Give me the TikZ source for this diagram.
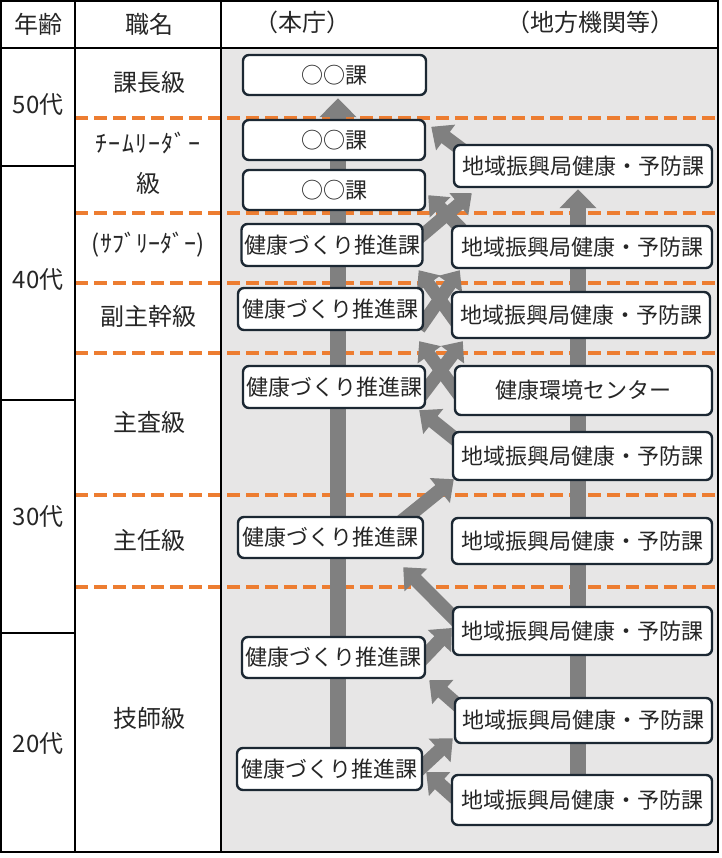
\documentclass[tikz,border=0pt]{standalone}
\usepackage{fontspec}
\setmainfont{Noto Sans CJK JP}
\usetikzlibrary{arrows.meta}
\definecolor{bgc}{RGB}{231,230,230}
\definecolor{orc}{RGB}{237,125,49}
\definecolor{arc}{RGB}{128,128,128}
\definecolor{bdc}{RGB}{28,40,51}
\definecolor{txc}{RGB}{38,38,38}
\pgfdeclarelayer{bg}
\pgfsetlayers{bg,main}
\begin{document}
\begin{tikzpicture}[x=1pt,y=-1pt,
  box/.style={draw=bdc, line width=2.4pt, rounded corners=6pt, fill=white, inner sep=0pt,
    font=\fontsize{22}{26}\selectfont, text=txc},
  lbox/.style={box, minimum width=183pt, minimum height=41pt},
  rbox/.style={box, minimum width=259pt, minimum height=46pt},
  lab/.style={font=\fontsize{24}{28}\selectfont, text=txc, inner sep=0pt},
  grid/.style={line width=2pt, black},
  lvl/.style={orc, line width=4pt, dash pattern=on 13pt off 6pt},
  trunk/.style={arc, line width=16pt, -{Triangle[length=19pt,width=36pt]}},
  arr/.style={arc, line width=14pt, -{Triangle[length=18pt,width=31pt]}},
  xarr/.style={arc, line width=13pt, -{Triangle[length=17pt,width=28pt]}},
]
\useasboundingbox (0,0) rectangle (721,858);

% ---- left boxes (本庁)
\node[lbox, minimum width=183pt, minimum height=40pt] (L1) at (334.5,75) {○○課};
\node[lbox, minimum width=182pt, minimum height=40pt] (L2) at (334,140) {○○課};
\node[lbox, minimum width=182pt, minimum height=40pt] (L3) at (334,190) {○○課};
\node[lbox, minimum width=181pt, minimum height=42pt] (L4) at (332,245) {健康づくり推進課};
\node[lbox, minimum width=185pt, minimum height=42pt] (L5) at (330.5,309) {健康づくり推進課};
\node[lbox, minimum width=182pt, minimum height=42pt] (L6) at (334,387) {健康づくり推進課};
\node[lbox, minimum width=185pt, minimum height=41pt] (L7) at (330.5,537.5) {健康づくり推進課};
\node[lbox, minimum width=183pt, minimum height=41pt] (L8) at (333.5,657.5) {健康づくり推進課};
\node[lbox, minimum width=185pt, minimum height=42pt] (L9) at (329.5,769) {健康づくり推進課};

% ---- right boxes (地方機関等)
\node[rbox, minimum width=258pt, minimum height=42pt] (Ra) at (583,166) {地域振興局健康・予防課};
\node[rbox, minimum width=260pt, minimum height=42pt] (Rb) at (582,247) {地域振興局健康・予防課};
\node[rbox, minimum width=258pt, minimum height=46pt] (Rc) at (581,315) {地域振興局健康・予防課};
\node[rbox, minimum width=257pt, minimum height=49pt] (Rd) at (583.5,390.5) {健康環境センター};
\node[rbox, minimum width=259pt, minimum height=48pt] (Re) at (582.5,456) {地域振興局健康・予防課};
\node[rbox, minimum width=260pt, minimum height=46pt] (Rf) at (582,541) {地域振興局健康・予防課};
\node[rbox, minimum width=259pt, minimum height=48pt] (Rg) at (582.5,631) {地域振興局健康・予防課};
\node[rbox, minimum width=257pt, minimum height=45pt] (Rh) at (583.5,720.5) {地域振興局健康・予防課};
\node[rbox, minimum width=260pt, minimum height=50pt] (Ri) at (582,800) {地域振興局健康・予防課};

% ---- background, level lines, arrows
\begin{pgfonlayer}{bg}
\fill[bgc] (221,48) rectangle (718,852);
\foreach \yy in {118,213,283,353,495,587} \draw[lvl] (75,\yy) -- (718,\yy);

\draw[trunk] ([xshift=8.5pt]L9.north) -- ([shift={(3.5,2)}]L1.south);
\draw[trunk] ([xshift=-4pt]Ri.north) -- ([shift={(-5,1)}]Ra.south);

\draw[arr] ([shift={(10,3)}]Ri.west) -- ([shift={(3,3)}]L9.east);
\draw[arr] ([shift={(-10,6)}]L9.east) -- ([shift={(-1,-6)}]Rh.south west);
\draw[arr] ([shift={(10,-10)}]Rh.west) -- ([shift={(3,1)}]L8.south east);
\draw[arr] ([shift={(-12,10)}]L8.east) -- ([shift={(0,-3)}]Rg.west);
\draw[arr] ([shift={(12,-3)}]Rg.west) -- ([shift={(-21,8)}]L7.south east);
\draw[arr] ([shift={(-28,10)}]L7.north east) -- ([shift={(2,-2)}]Re.south west);
\draw[arr] ([shift={(12,-10)}]Re.west) -- ([shift={(-7,1)}]L6.south east);

% crossings between 本庁 and 地方機関
\draw[xarr] ([shift={(-7,34)}]L6.north east) -- ([shift={(12,2)}]Rc.south west);
\draw[xarr] ([shift={(8,34)}]Rd.north west) -- ([shift={(-5,10)}]L5.south east);

\draw[xarr] ([shift={(-5,42)}]L5.north east) -- ([shift={(9,1)}]Rb.south west);
\draw[xarr] ([shift={(10,38)}]Rc.north west) -- ([shift={(-5,3)}]L4.south east);

\draw[xarr] ([shift={(-8,18)}]L4.north east) -- ([shift={(19,5)}]Ra.south west);
\draw[xarr] ([shift={(24,18)}]Rb.north west) -- ([shift={(2,-16)}]L3.south east);

\draw[arr] ([shift={(12,8)}]Ra.north west) -- ([shift={(5,8)}]L2.north east);
\end{pgfonlayer}

% ---- table grid
\draw[grid] (1,1) rectangle (718,852);
\draw[grid] (1,48) -- (718,48);
\draw[grid] (75,1) -- (75,852);
\draw[grid] (221,1) -- (221,852);
\draw[grid] (1,166) -- (75,166);
\draw[grid] (1,400) -- (75,400);
\draw[grid] (1,633) -- (75,633);

% ---- header
\node[lab] (h1) at (38,24) {年齢};
\node[lab] (h2) at (149,24) {職名};
\node[lab] (h3) at (302,22) {（本庁）};
\node[lab] (h4) at (590,22) {（地方機関等）};

% ---- ages
\node[lab] (a50) at (38,105) {50代};
\node[lab] (a40) at (38,280) {40代};
\node[lab] (a30) at (38,517) {30代};
\node[lab] (a20) at (38,744) {20代};

% ---- ranks
\node[lab] (r1) at (149,82) {課長級};
\node[lab, font=\fontsize{24}{28}\selectfont\addfontfeature{LetterSpace=5}] (r2a) at (148,143) {ﾁｰﾑﾘｰﾀﾞｰ};
\node[lab] (r2b) at (148,183) {級};
\node[lab] (r3) at (148,245) {(ｻﾌﾞﾘｰﾀﾞｰ)};
\node[lab] (r4) at (148,316) {副主幹級};
\node[lab] (r5) at (149,422) {主査級};
\node[lab] (r6) at (149,540) {主任級};
\node[lab] (r7) at (149,718) {技師級};
\end{tikzpicture}
\end{document}
